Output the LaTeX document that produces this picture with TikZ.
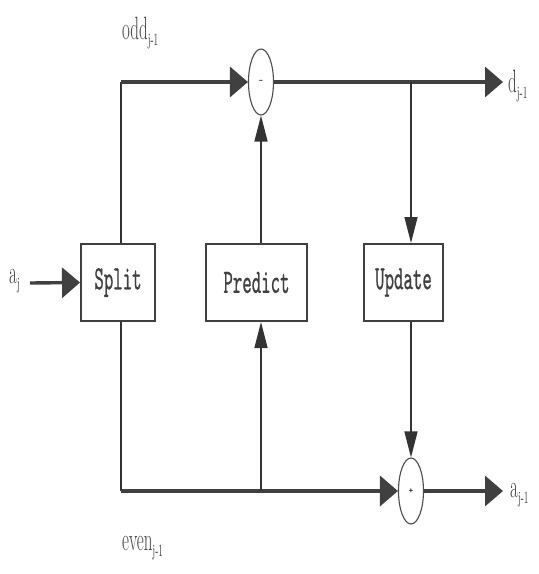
\documentclass[tikz,border=0pt]{standalone}
\usepackage{fontspec}
\newfontfamily\boxfont[FakeBold=0.8]{lmmono10-regular.otf}
\usetikzlibrary{arrows.meta,shapes.geometric}
\newcommand{\tall}[1]{\scalebox{1}[1.9]{#1}}
\newcommand{\lsub}[1]{\raisebox{-3.5pt}{\fontsize{9}{9}\selectfont #1}}
\begin{document}
\begin{tikzpicture}[x=1pt,y=-1pt,
  blk/.style={draw=black!75,line width=2pt,minimum height=77pt,inner sep=0pt,font=\boxfont\fontsize{18}{18}\selectfont,text=black!75},
  junc/.style={draw=black!70,ellipse,line width=1.1pt,minimum width=25pt,minimum height=66pt,inner sep=0pt,font=\ttfamily\fontsize{9}{9}\selectfont},
  hline/.style={draw=black!75,line width=3.4pt,-{Triangle[length=18pt,width=30pt]}},
  vline/.style={draw=black!80,line width=1.4pt,-{Triangle[length=26pt,width=13pt]}},
  plain/.style={draw=black!80,line width=1.4pt},
  lbl/.style={font=\rmfamily\fontsize{17}{17}\selectfont,text=black!75,inner sep=0pt}]
\useasboundingbox (0,0) rectangle (539,574);
\fill[white] (0,0) rectangle (539,574);
% blocks
\node[blk,minimum width=74pt] (split) at (118,282.5) {\tall{Split}};
\node[blk,minimum width=101pt] (predict) at (256.5,282.5) {\tall{Predict}};
\node[blk,minimum width=79pt] (update) at (403.5,282.5) {\tall{Update}};
% junctions
\node[junc] (minus) at (261,82) {-};
\node[junc] (plus) at (411,491) {+};
% coordinates
\coordinate (tl) at (121,82);
\coordinate (bl) at (121,491);
\coordinate (branch) at (411,82);
\coordinate (tap) at (261,491);
\coordinate (dout) at (503,82);
\coordinate (aout) at (503,491);
\coordinate (ain) at (30,283);
% labels
\node[lbl,anchor=west] (aj) at (9,281) {\tall{a\lsub{j}}};
\node[lbl,anchor=west] (dlab) at (508,86) {\tall{d\lsub{j-1}}};
\node[lbl,anchor=west] (alab) at (510,495) {\tall{a\lsub{j-1}}};
\node[lbl,anchor=west] (odd) at (122,33) {\tall{odd\lsub{j-1}}};
\node[lbl,anchor=west] (even) at (122,548) {\tall{even\lsub{j-1}}};
% connectors
\draw[plain] (split.north -| tl) -- (tl);
\draw[hline] (tl) -- (minus.west);
\draw[hline] (minus.east) -- (dout);
\draw[vline] (branch) -- (update.north -| branch);
\draw[vline] (predict.north -| minus) -- (minus.south);
\draw[plain] (split.south -| bl) -- (bl);
\draw[hline] (bl) -- (plus.west);
\draw[vline] (tap) -- (predict.south -| tap);
\draw[vline] (update.south -| plus) -- (plus.north);
\draw[hline] (plus.east) -- (aout);
\draw[hline] (ain) -- (split.west);
\end{tikzpicture}
\end{document}
